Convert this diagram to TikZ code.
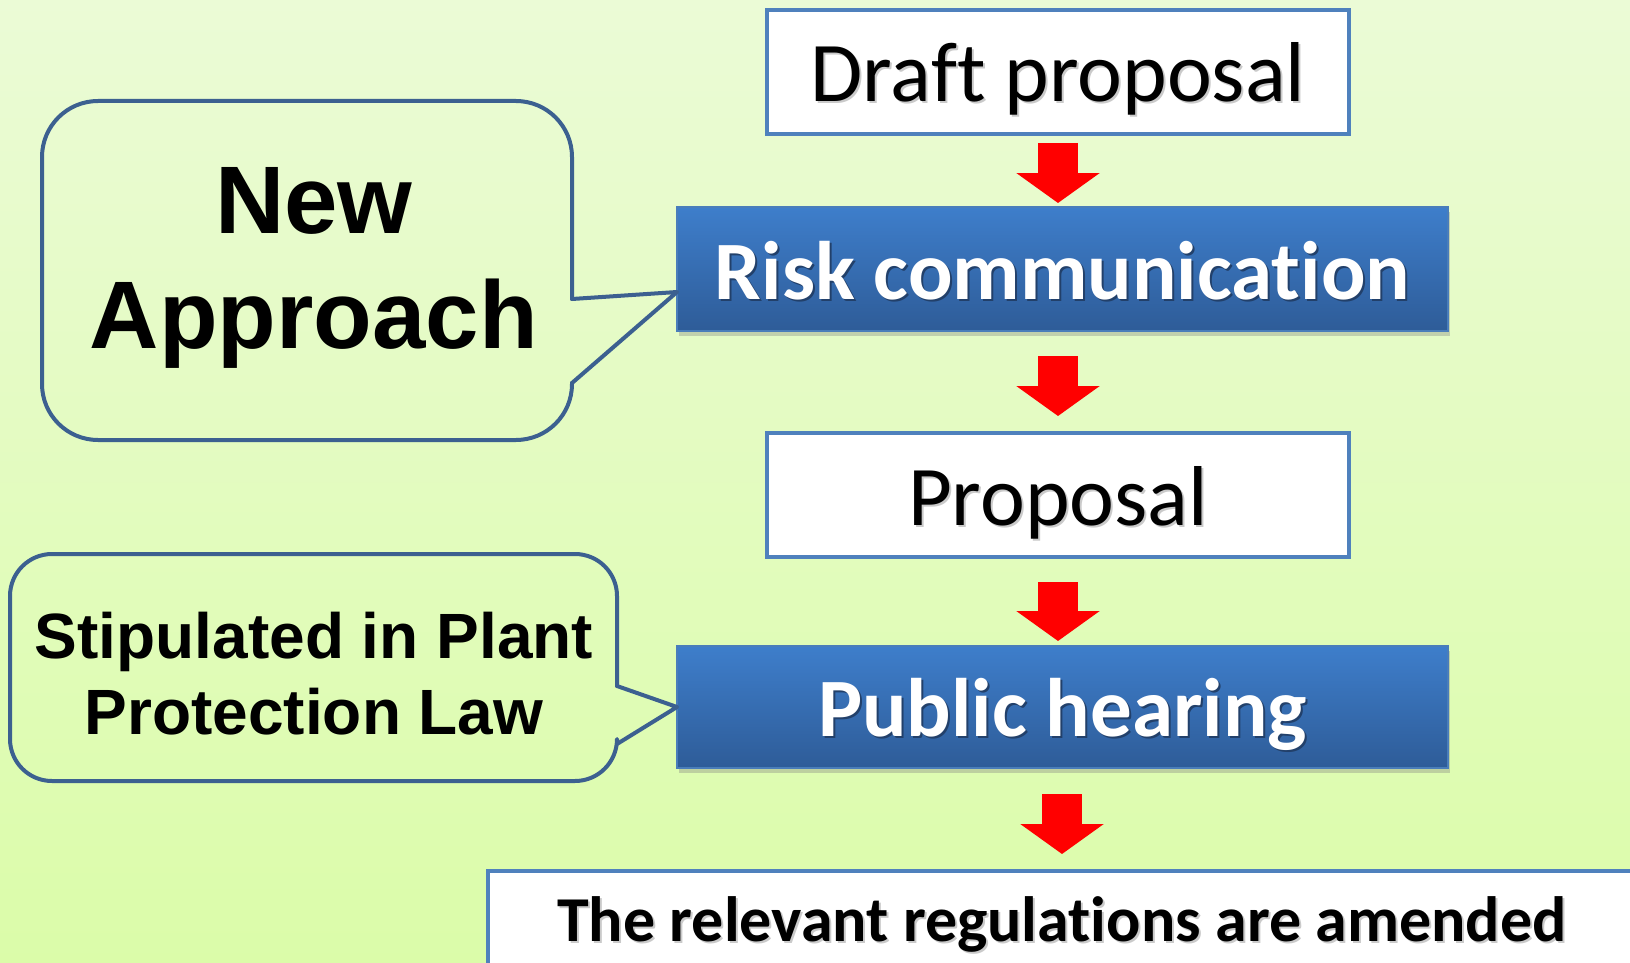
\documentclass[tikz,border=0pt]{standalone}
\usepackage{fontspec}
\newfontfamily\calfont[Ligatures=NoCommon]{Carlito}
\newfontfamily\arifont{Liberation Sans}
\usetikzlibrary{shadows,arrows.meta,calc}
\definecolor{bgtop}{HTML}{EBFBD6}
\definecolor{bgbot}{HTML}{DBFCA9}
\definecolor{boxline}{HTML}{4F81BD}
\definecolor{bluetop}{HTML}{3E7ECB}
\definecolor{bluebot}{HTML}{2E5C98}
\definecolor{blueline}{HTML}{4A7DBA}
\definecolor{bubline}{HTML}{3C6090}
\definecolor{darkshade}{HTML}{22406A}
\definecolor{greyshade}{HTML}{CACACA}
\newcommand\shtext[2]{\leavevmode\rlap{\hspace{2pt}\raisebox{-2pt}{\color{#1}#2}}#2}
\begin{document}
\begin{tikzpicture}[x=1pt,y=-1pt,
  whitebox/.style={draw=boxline, line width=4pt, fill=white, minimum width=582pt,
    minimum height=124pt, inner sep=0pt, outer sep=0pt, text height=92pt, text depth=32pt,
    font=\calfont\fontsize{85}{100}\selectfont},
  bluebox/.style={draw=blueline, line width=2pt, top color=bluetop, bottom color=bluebot,
    minimum width=771pt, minimum height=124pt, inner sep=0pt, outer sep=0pt,
    text height=92pt, text depth=32pt, text=white,
    drop shadow={shadow xshift=2pt, shadow yshift=-5pt, opacity=0.35},
    font=\calfont\bfseries\fontsize{83}{100}\selectfont},
  redarrow/.style={draw=red, line width=40pt, -{Triangle[width=82pt,length=30pt]}},
  bubble/.style={draw=bubline, line width=4pt, line cap=round, line join=round},
  bubtext/.style={align=center, inner sep=0pt}
]
\useasboundingbox (0,0) rectangle (1630,963);
\clip (0,0) rectangle (1630,963);
\shade[top color=bgtop, bottom color=bgbot] (0,0) rectangle (1630,963);

% flow boxes
\node[whitebox] (draft) at (1058,72) {\shtext{greyshade}{Draft proposal}};
\node[bluebox] (risk) at (1062.5,269) {\shtext{darkshade}{Risk communication}};
\node[whitebox] (prop) at (1058,495) {\shtext{greyshade}{Proposal}};
\node[bluebox, minimum height=122pt, text height=90pt] (pub) at (1062.5,707) {\shtext{darkshade}{Public hearing}};
\node[whitebox, minimum width=1148pt, minimum height=200pt, text height=70pt, text depth=130pt,
  font=\calfont\bfseries\fontsize{64}{70}\selectfont] (final) at (1062,971)
  {\shtext{greyshade}{The relevant regulations are amended}};

% red arrows
\draw[redarrow] ($(draft.south)+(0,9)$) -- ($(draft.south)+(0,69)$);
\draw[redarrow] ($(risk.south)+(-4.5,25)$) -- ($(prop.north)+(0,-17)$);
\draw[redarrow] ($(prop.south)+(0,25)$) -- ($(prop.south)+(0,84)$);
\draw[redarrow] ($(pub.south)+(-0.5,26)$) -- ($(final.north)+(0,-17)$);

% callout bubbles
\node[bubtext, font=\arifont\bfseries\fontsize{96}{115}\selectfont] (newap) at (314,268) {New\\Approach};
\coordinate (tip1) at ($(risk.west)+(0,23)$);
\draw[bubble, rounded corners=56pt] (572,299) -- (572,101) -- (42,101) -- (42,440) -- (572,440) -- (572,383);
\draw[bubble] (572,383) -- (tip1) -- (572,299);

\node[bubtext, font=\arifont\bfseries\fontsize{64}{76}\selectfont] (stip) at (314,674) {Stipulated in Plant\\Protection Law};
\coordinate (tip2) at (pub.west);
\draw[bubble, rounded corners=42pt] (617,686) -- (617,554) -- (10,554) -- (10,781) -- (617,781) -- (617,744);
\draw[bubble] (617,744) -- (tip2) -- (617,686);
\end{tikzpicture}
\end{document}
